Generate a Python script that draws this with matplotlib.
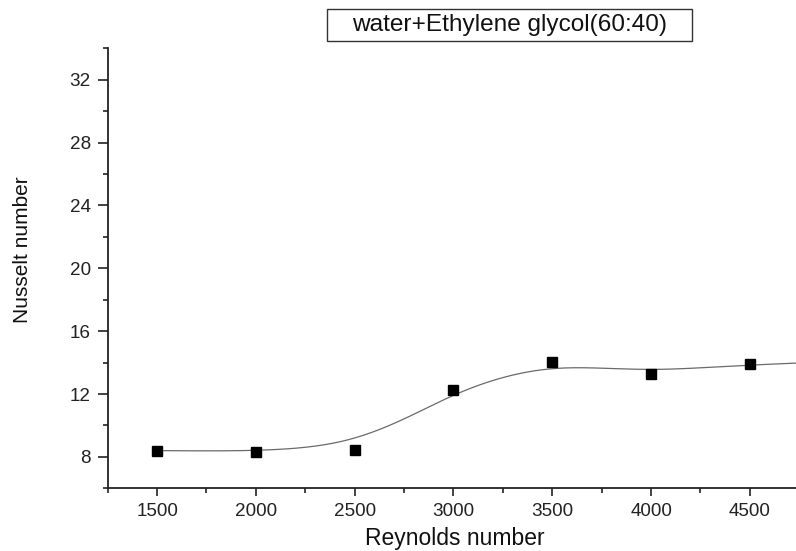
import numpy as np
import matplotlib
matplotlib.use("Agg")
import matplotlib.pyplot as plt
from matplotlib.ticker import MultipleLocator
from matplotlib.patches import Rectangle

# ---- data ----
reynolds = [1500, 2000, 2500, 3000, 3500, 4000, 4500, 5000]   # 5000 lies beyond the cropped right edge
nusselt = [8.40, 8.34, 8.46, 12.25, 14.03, 13.29, 13.92, 14.07]
y_ticks = [8, 12, 16, 20, 24, 28, 32]
x_ticks = [1500, 2000, 2500, 3000, 3500, 4000, 4500]
legend_label = "water+Ethylene glycol(60:40)"
x_label = "Reynolds number"
y_label = "Nusselt number"

FONT = ["Liberation Sans", "DejaVu Sans"]
plt.rcParams["font.family"] = FONT


def bspline_curve(px, py, degree=3, n=400):
    """Clamped uniform B-spline using the data points as control points (Origin 'B-Spline')."""
    px = np.asarray(px, float)
    py = np.asarray(py, float)
    m = len(px)
    nseg = m - degree
    knots = np.concatenate([np.zeros(degree), np.arange(nseg + 1), np.full(degree, nseg)]).astype(float)
    t = np.linspace(0, nseg, n)
    t[-1] -= 1e-9
    # Cox-de Boor
    N = np.zeros((len(t), len(knots) - 1))
    for i in range(len(knots) - 1):
        N[:, i] = np.where((t >= knots[i]) & (t < knots[i + 1]), 1.0, 0.0)
    for k in range(1, degree + 1):
        Nn = np.zeros((len(t), len(knots) - 1 - k))
        for i in range(len(knots) - 1 - k):
            a = knots[i + k] - knots[i]
            b = knots[i + k + 1] - knots[i + 1]
            term = np.zeros(len(t))
            if a > 0:
                term += (t - knots[i]) / a * N[:, i]
            if b > 0:
                term += (knots[i + k + 1] - t) / b * N[:, i + 1]
            Nn[:, i] = term
        N = Nn
    return N @ px, N @ py


fig = plt.figure(figsize=(7.96, 5.51), dpi=100)
W, H = 796.0, 551.0
left_px, right_px = 107.7, 848.7
top_px, bottom_px = 48.3, 488.3
ax = fig.add_axes([left_px / W, 1 - bottom_px / H, (right_px - left_px) / W, (bottom_px - top_px) / H])

cx, cy = bspline_curve(reynolds, nusselt)
ax.plot(cx, cy, color="#6a6a6a", lw=0.9, zorder=2)
ax.plot(reynolds, nusselt, ls="none", marker="s", ms=6.7, color="black", zorder=3)

ax.set_xlim(1250, 5000)
ax.set_ylim(6, 34)
ax.set_xticks(x_ticks)
ax.set_yticks(y_ticks)
ax.xaxis.set_minor_locator(MultipleLocator(250))
ax.yaxis.set_minor_locator(MultipleLocator(2))

for s in ["top", "right"]:
    ax.spines[s].set_visible(False)
for s in ["left", "bottom"]:
    ax.spines[s].set_linewidth(1.3)
    ax.spines[s].set_color("#222222")

ax.tick_params(axis="x", which="major", direction="out", length=5.5, width=1.2, pad=5,
               labelsize=13.6, colors="#222222")
ax.tick_params(axis="x", which="minor", direction="out", length=3.5, width=1.2, colors="#222222")
ax.tick_params(axis="y", which="major", direction="out", length=7.2, width=1.2, pad=5,
               labelsize=13.6, colors="#222222")
ax.tick_params(axis="y", which="minor", direction="out", length=3.4, width=1.2, colors="#222222")

fig.text(455 / W, 1 - 545.5 / H, x_label, ha="center", va="baseline", fontsize=16.5, color="#111111")
fig.text(28.5 / W, 1 - 250 / H, y_label, ha="center", va="baseline", rotation=90,
         rotation_mode="anchor", fontsize=15, color="#111111")

# legend box
bx0, bx1, by0, by1 = 326.7, 692.3, 9.3, 40.7
fig.patches.append(Rectangle((bx0 / W, 1 - by1 / H), (bx1 - bx0) / W, (by1 - by0) / H,
                             transform=fig.transFigure, fill=False, ec="#333333", lw=1.0))
fig.text((bx0 + bx1) / 2 / W, 1 - 31.5 / H, legend_label, ha="center", va="baseline",
         fontsize=17.6, color="#111111")

fig.savefig("out.png", dpi=100)
